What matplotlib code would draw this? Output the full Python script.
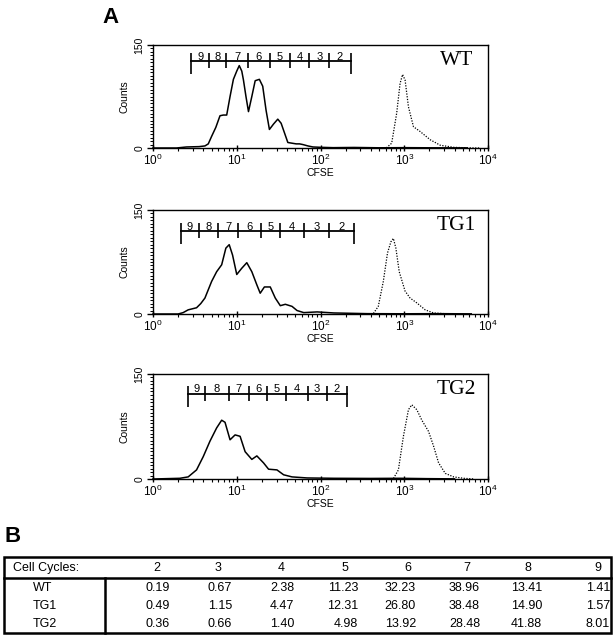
import numpy as np
import matplotlib
matplotlib.use('Agg')
import matplotlib.pyplot as plt
from matplotlib.ticker import FixedLocator, LogLocator, MultipleLocator, FuncFormatter, NullFormatter
from matplotlib.patches import Rectangle

plt.rcParams['font.family'] = ['Liberation Sans', 'DejaVu Sans']
plt.rcParams['mathtext.default'] = 'regular'

# ---------------- data (CFSE as log10 intensity, counts) ----------------
sample_names = ['WT', 'TG1', 'TG2']

wt_solid_log = [0.0, 0.28, 0.40, 0.55, 0.62, 0.66, 0.70, 0.75, 0.80, 0.84, 0.88, 0.92, 0.96, 1.00, 1.03,
                1.06, 1.08, 1.11, 1.14, 1.18, 1.22, 1.27, 1.31, 1.35, 1.39, 1.44, 1.49, 1.53, 1.57,
                1.61, 1.66, 1.71, 1.75, 1.79, 1.85, 1.91, 2.0, 2.15, 2.4, 2.7, 3.0, 3.3, 3.75]
wt_solid_cnt = [0, 0, 1.5, 2, 3, 6, 17, 30, 47, 48, 48, 75, 100, 112, 120,
                112, 99, 75, 53, 75, 98, 100, 90, 55, 27, 35, 42, 36, 22,
                8, 7, 6, 6, 5, 3, 1.5, 1, 0.5, 0.8, 0.3, 0.5, 0.3, 0.2]
wt_dot_log = [2.72, 2.79, 2.85, 2.91, 2.95, 2.98, 3.01, 3.05, 3.11, 3.19, 3.31, 3.43, 3.59, 3.75, 3.9]
wt_dot_cnt = [0, 0.5, 7, 51, 94, 107, 99, 60, 31, 24, 12, 4, 1, 0.3, 0]

tg1_solid_log = [0.0, 0.30, 0.36, 0.42, 0.52, 0.57, 0.62, 0.66, 0.70, 0.76, 0.82, 0.87, 0.91, 0.95,
                 1.00, 1.06, 1.12, 1.18, 1.24, 1.28, 1.33, 1.40, 1.46, 1.52, 1.58, 1.66, 1.72,
                 1.80, 1.96, 2.16, 2.56, 3.0, 3.4, 3.8]
tg1_solid_cnt = [0, 0, 2, 6, 9, 15, 23, 35, 47, 61, 71, 95, 100, 85,
                 57, 66, 74, 61, 42, 30, 39, 39, 23, 12, 14, 11, 5,
                 2, 3, 1.5, 0.5, 0.3, 0.5, 0.2]
tg1_dot_log = [2.60, 2.63, 2.69, 2.75, 2.80, 2.84, 2.87, 2.90, 2.94, 3.01, 3.07, 3.15, 3.25, 3.35, 3.55]
tg1_dot_cnt = [0, 0.5, 11, 47, 88, 104, 109, 95, 61, 33, 23, 16, 6, 1.5, 0]

tg2_solid_log = [0.0, 0.32, 0.42, 0.52, 0.60, 0.68, 0.76, 0.82, 0.86, 0.92, 0.98, 1.04, 1.10,
                 1.18, 1.24, 1.32, 1.38, 1.48, 1.56, 1.66, 1.84, 2.16, 2.6, 2.95, 3.27, 3.6]
tg2_solid_cnt = [0, 1, 3, 13, 32, 54, 73, 84, 81, 56, 63, 61, 39,
                 28, 33, 23, 14, 13, 6, 3, 1.5, 1, 0.8, 1, 0.5, 0.2]
tg2_dot_log = [2.84, 2.87, 2.93, 2.99, 3.05, 3.09, 3.15, 3.21, 3.29, 3.35, 3.41, 3.49, 3.59, 3.71, 3.84]
tg2_dot_cnt = [0, 0.5, 13, 61, 99, 106, 99, 84, 68, 47, 23, 8, 3, 1, 0]

# division-gate boundaries (log10 CFSE) and gate levels (counts)
gate_labels = ['9', '8', '7', '6', '5', '4', '3', '2']
wt_gate_log = [0.458, 0.669, 0.876, 1.131, 1.394, 1.633, 1.865, 2.104, 2.359]
tg1_gate_log = [0.339, 0.546, 0.777, 1.016, 1.287, 1.514, 1.801, 2.104, 2.403]
tg2_gate_log = [0.419, 0.626, 0.905, 1.144, 1.367, 1.583, 1.846, 2.073, 2.320]
gate_levels = [126, 119, 121.5]

# table B
cell_cycles = ['2', '3', '4', '5', '6', '7', '8', '9']
wt_pct = ['0.19', '0.67', '2.38', '11.23', '32.23', '38.96', '13.41', '1.41']
tg1_pct = ['0.49', '1.15', '4.47', '12.31', '26.80', '38.48', '14.90', '1.57']
tg2_pct = ['0.36', '0.66', '1.40', '4.98', '13.92', '28.48', '41.88', '8.01']

# ---------------- figure ----------------
W, H = 615, 639
fig = plt.figure(figsize=(W / 100, H / 100), dpi=100)


def px_axes(left, top, right, bottom):
    return fig.add_axes([left / W, 1 - bottom / H, (right - left) / W, (bottom - top) / H])


panel_boxes = [(153, 45, 488, 148), (153, 210, 488, 314), (153, 374, 488, 479)]
solids = [(wt_solid_log, wt_solid_cnt), (tg1_solid_log, tg1_solid_cnt), (tg2_solid_log, tg2_solid_cnt)]
dots = [(wt_dot_log, wt_dot_cnt), (tg1_dot_log, tg1_dot_cnt), (tg2_dot_log, tg2_dot_cnt)]
gates = [wt_gate_log, tg1_gate_log, tg2_gate_log]

for box, name, (sx, sy), (dx, dy), gate, glev in zip(panel_boxes, sample_names, solids, dots, gates, gate_levels):
    ax = px_axes(*box)
    ax.plot(10 ** np.array(sx), sy, color='black', lw=1.1, clip_on=False, zorder=3)
    ax.plot(10 ** np.array(dx), dy, color='black', lw=0.9, ls=(0, (1, 1.2)), clip_on=False, zorder=3)
    ax.set_xscale('log')
    ax.set_xlim(1, 1e4)
    ax.set_ylim(0, 150)
    for sp in ax.spines.values():
        sp.set_linewidth(1.0)
    ax.xaxis.set_major_locator(LogLocator(base=10, numticks=10))
    ax.xaxis.set_minor_locator(LogLocator(base=10, subs=np.arange(2, 10), numticks=20))
    ax.xaxis.set_minor_formatter(NullFormatter())
    ax.xaxis.set_major_formatter(FuncFormatter(lambda v, _: r'$10^{%d}$' % int(round(np.log10(v)))))
    ax.yaxis.set_major_locator(FixedLocator([0, 150]))
    ax.yaxis.set_minor_locator(MultipleLocator(5))
    ax.tick_params(axis='x', which='major', direction='inout', length=5, width=1, labelsize=8.5, pad=1)
    ax.tick_params(axis='x', which='minor', direction='out', length=2.5, width=0.8)
    ax.tick_params(axis='y', which='major', direction='out', length=4, width=1, labelsize=7.5, pad=2)
    ax.tick_params(axis='y', which='minor', direction='out', length=2.2, width=0.7)
    for lbl in ax.get_yticklabels():
        lbl.set_rotation(90)
        lbl.set_va('center')
    ax.set_xlabel('CFSE', fontsize=7.5, labelpad=0)
    ax.set_ylabel('Counts', fontsize=7.5, labelpad=4)

    # gate bar
    gx = 10 ** np.array(gate)
    ax.plot([gx[0], gx[-1]], [glev, glev], color='black', lw=1.3)
    ax.vlines(gx[1:-1], glev - 10, glev + 12, color='black', lw=1.2)
    ax.vlines([gx[0], gx[-1]], glev - 18, glev + 12, color='black', lw=1.2)
    for i, lab in enumerate(gate_labels):
        mid = 10 ** ((gate[i] + gate[i + 1]) / 2)
        ax.text(mid, glev + 7, lab, fontsize=8, ha='center', va='center')

    ax.text(0.905, 0.85, name, transform=ax.transAxes, fontsize=15.5, ha='center', va='center',
            family=['Liberation Serif', 'DejaVu Serif'])

# panel letters
fig.text(102 / W, 1 - 7 / H, 'A', fontsize=16, fontweight='bold', ha='left', va='top')
fig.text(4 / W, 1 - 526 / H, 'B', fontsize=16, fontweight='bold', ha='left', va='top')

# ---------------- table ----------------
axt = fig.add_axes([0, 0, 1, 1])
axt.set_xlim(0, W)
axt.set_ylim(H, 0)
axt.axis('off')

tab_left, tab_right, tab_top, tab_bottom = 4, 611, 557, 633
header_line = 578
div_x = 105
axt.add_patch(Rectangle((tab_left, tab_top), tab_right - tab_left, tab_bottom - tab_top,
                        fill=False, lw=1.8, edgecolor='black'))
axt.plot([tab_left, tab_right], [header_line, header_line], color='black', lw=1.8)
axt.plot([div_x, div_x], [header_line, tab_bottom], color='black', lw=1.8)

col_center = [157, 218, 281, 345, 408, 467, 528, 598]
col_right = [170, 232, 294, 358, 416, 480, 542, 610]
header_y = 568
row_y = [588, 606, 624]

axt.text(13, header_y, 'Cell Cycles:', fontsize=9, ha='left', va='center')
for cx, c in zip(col_center, cell_cycles):
    axt.text(cx, header_y, c, fontsize=9, ha='center', va='center')
for ry, name, vals in zip(row_y, sample_names, [wt_pct, tg1_pct, tg2_pct]):
    axt.text(33, ry, name, fontsize=9, ha='left', va='center')
    for rx, v in zip(col_right, vals):
        axt.text(rx, ry, v, fontsize=9, ha='right', va='center')

fig.savefig('out.png', dpi=100)
